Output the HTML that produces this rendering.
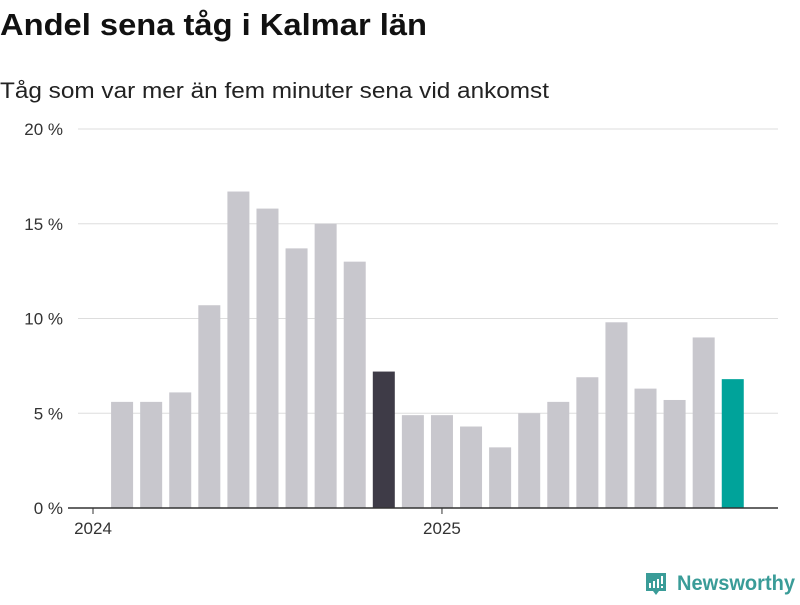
<!DOCTYPE html>
<html><head><meta charset="utf-8"><style>
body{margin:0;width:800px;height:600px;background:#fff;font-family:"Liberation Sans",sans-serif;overflow:hidden}
</style></head><body>
<svg width="800" height="600">
<text x="0" y="35" font-size="31" font-weight="bold" fill="#111" textLength="427" lengthAdjust="spacingAndGlyphs">Andel sena tåg i Kalmar län</text>
<text x="0" y="98" font-size="22" fill="#222" textLength="549" lengthAdjust="spacingAndGlyphs">Tåg som var mer än fem minuter sena vid ankomst</text>
<g id="grid"></g><g id="bars"></g><g id="axis"></g>
<g>
<path d="M646 573h20v18h-7l-3 4l-3-4h-7z" fill="#3a9c98"/>
<rect x="649" y="583" width="2" height="5" fill="#fff"/><rect x="653" y="581" width="2" height="7" fill="#fff"/><rect x="657" y="579" width="2" height="9" fill="#fff"/><rect x="661" y="576" width="2" height="8" fill="#fff"/><rect x="661" y="586" width="2" height="2" fill="#fff"/>
<text x="677" y="590" font-size="21" fill="#3a9c98" font-weight="bold" textLength="118" lengthAdjust="spacingAndGlyphs">Newsworthy</text>
</g>
</svg>
<script>
const months=["2024-02","2024-03","2024-04","2024-05","2024-06","2024-07","2024-08","2024-09","2024-10","2024-11","2024-12","2025-01","2025-02","2025-03","2025-04","2025-05","2025-06","2025-07","2025-08","2025-09","2025-10","2025-11"];
const values=[5.6,5.6,6.1,10.7,16.7,15.8,13.7,15.0,13.0,7.2,4.9,4.9,4.3,3.2,5.0,5.6,6.9,9.8,6.3,5.7,9.0,6.8];
const yTicks=[0,5,10,15,20];
const xTickLabels=["2024","2025"];
const xTickIdx=[0,12];
const NS="http://www.w3.org/2000/svg";
const y=v=>508-v*18.95;
const x=i=>93+i*29.08; // slot 0 = Jan 2024
function mk(t,a,p){const e=document.createElementNS(NS,t);for(const k in a)e.setAttribute(k,a[k]);p.appendChild(e);return e;}
const grid=document.getElementById('grid'),bars=document.getElementById('bars'),axis=document.getElementById('axis');
yTicks.forEach(v=>{
 if(v>0){const l=mk('line',{x1:78,x2:778,y1:y(v),y2:y(v),stroke:'#ddd','stroke-width':1},grid);
 
 }
 const t=mk('text',{x:63,y:y(v)+6,'font-size':17,fill:'#333','text-anchor':'end'},grid);
 t.textContent=v+' %';
 
 
});
values.forEach((v,i)=>{
 const cx=x(i+1);
 const fill=i===values.length-1?'#00a39a':(i===values.length-13?'#3e3b47':'#c8c7cd');
 const r=mk('rect',{x:cx-11,y:y(v),width:22,height:508-y(v),fill},bars);
 
 
});
const ax=mk('line',{x1:68,x2:778,y1:508,y2:508,stroke:'#333','stroke-width':1.5},axis);


xTickIdx.forEach((idx,k)=>{
 mk('line',{x1:x(idx),x2:x(idx),y1:508,y2:514,stroke:'#333'},axis);
 const t=mk('text',{x:x(idx),y:534,'font-size':17,fill:'#333','text-anchor':'middle'},axis);
 t.textContent=xTickLabels[k];
 
 
});
</script>
</body></html>
